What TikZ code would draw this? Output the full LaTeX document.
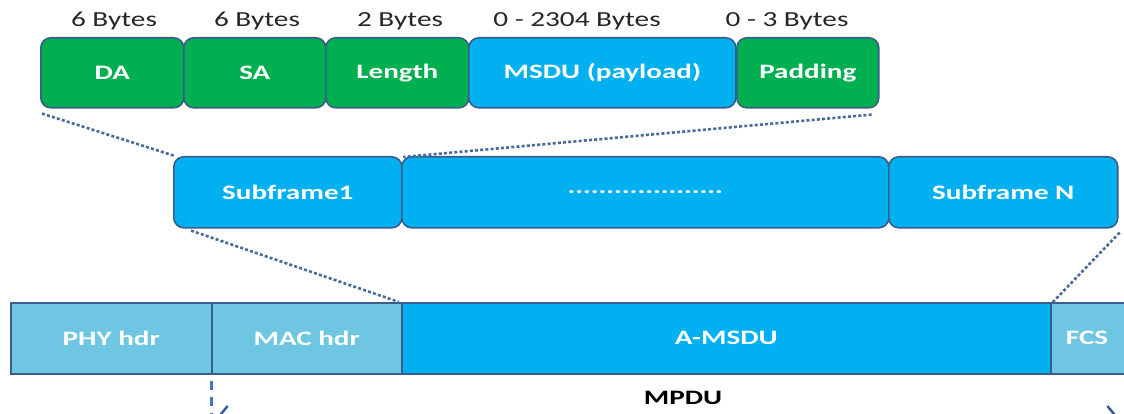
\documentclass[tikz,border=0pt]{standalone}
\usepackage{fontspec}
\setmainfont{Carlito}
\newfontfamily\sizefont[FakeStretch=1.36]{Carlito}
\newfontfamily\fieldfont[FakeStretch=1.42]{Carlito}
\usetikzlibrary{arrows.meta}
\definecolor{fgreen}{HTML}{00B050}
\definecolor{fblue}{HTML}{00B0F0}
\definecolor{flight}{HTML}{6EC6E2}
\definecolor{fedge}{HTML}{3A5E8C}
\definecolor{fdot}{HTML}{4A6A9A}
\definecolor{fdash}{HTML}{4472C4}
\tikzset{
  field/.style={draw=fedge, line width=1.6pt, rounded corners=10pt, text=white,
    font=\fieldfont\fontsize{20.5}{22}\selectfont\bfseries, inner sep=0pt, anchor=north west},
  gfield/.style={field, fill=fgreen},
  bfield/.style={field, fill=fblue},
  flat/.style={draw=fedge, line width=1.6pt, text=white,
    font=\fieldfont\fontsize{20.5}{22}\selectfont\bfseries, inner sep=0pt, anchor=north west},
  size/.style={font=\sizefont\fontsize{21.5}{23}\selectfont, text=black!85, anchor=base},
  zoomline/.style={draw=fdot, line width=2.6pt, dash pattern=on 3pt off 2.2pt},
}
\begin{document}
\begin{tikzpicture}[x=1pt, y=-1pt]
\useasboundingbox (0,0) rectangle (1124,414);
\clip (0,0) rectangle (1124,414);

% A-MSDU subframe fields
\node[gfield, minimum width=143pt, minimum height=70pt] (da)  at (40,37)  {DA};
\node[gfield, minimum width=142pt, minimum height=70pt] (sa)  at (183,37) {SA};
\node[gfield, minimum width=143pt, minimum height=70pt] (len) at (325,37) {Length};
\node[bfield, minimum width=267pt, minimum height=70pt] (msdu) at (468,37) {MSDU (payload)};
\node[gfield, minimum width=142pt, minimum height=70pt] (pad) at (736,37) {Padding};

% field sizes
\node[size] (s1) at (114,27) {6 Bytes};
\node[size] (s2) at (257,27) {6 Bytes};
\node[size] (s3) at (400,27) {2 Bytes};
\node[size] (s4) at (577,27) {0 - 2304 Bytes};
\node[size] (s5) at (787,27) {0 - 3 Bytes};

% A-MSDU made of subframes
\node[bfield, minimum width=228pt, minimum height=71pt] (sf1) at (173,156) {Subframe1};
\node[bfield, minimum width=487pt, minimum height=71pt] (sfd) at (401,156) {....................};
\node[bfield, minimum width=229pt, minimum height=71pt] (sfn) at (888,156) {Subframe N};

% PPDU
\node[flat, fill=flight, minimum width=201pt, minimum height=71pt] (phy) at (10,302) {PHY hdr};
\node[flat, fill=flight, minimum width=190pt, minimum height=71pt] (mac) at (211,302) {MAC hdr};
\node[flat, fill=fblue,  minimum width=649pt, minimum height=71pt] (amsdu) at (401,302) {A-MSDU};
\node[flat, fill=flight, minimum width=90pt,  minimum height=71pt] (fcs) at (1050,302) {};
\node[text=white, font=\fieldfont\fontsize{20.5}{22}\selectfont\bfseries] (fcst) at (1087,337.5) {FCS};

% expansion lines
\draw[zoomline] ([xshift=2pt,yshift=-5pt]da.south west) -- ([xshift=2pt]sf1.north west);
\draw[zoomline] ([xshift=-8pt,yshift=-6pt]pad.south east) -- ([xshift=2pt,yshift=-1pt]sfd.north west);
\draw[zoomline] ([xshift=18pt,yshift=-2pt]sf1.south west) -- ([xshift=-2pt]amsdu.north west);
\draw[zoomline] ([xshift=1pt,yshift=-4pt]sfn.south east) -- ([xshift=2pt,yshift=-1pt]fcs.north west);

% MPDU span
\node[font=\fieldfont\fontsize{20.5}{22}\selectfont\bfseries, text=black] (mpdu) at (683,398) {MPDU};
\coordinate (mstart) at (211,381);
\coordinate (mbot) at (211,414);
\coordinate (ml) at (212,423);
\coordinate (mr) at (1123,423);
\draw[fdash, line width=3pt, dash pattern=on 9pt off 7pt] (mstart) -- (mbot);
\draw[fedge, line width=2.5pt, {Straight Barb[length=14pt,width=34pt]}-{Straight Barb[length=14pt,width=34pt]}] (ml) -- (mr);
\end{tikzpicture}
\end{document}
